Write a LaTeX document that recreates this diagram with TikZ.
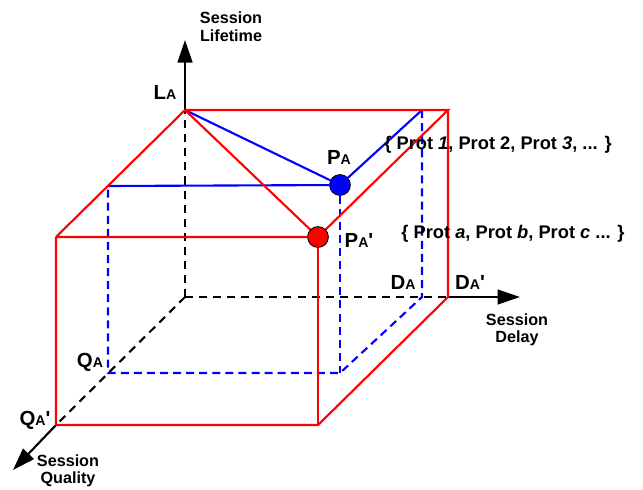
\documentclass[tikz,border=0pt]{standalone}
\usepackage{fontspec}
\newfontfamily\arialbold{Liberation Sans}
\usetikzlibrary{arrows.meta}

\newcommand{\subl}[2]{{\fontsize{14.5}{16}\selectfont #1}{\fontsize{10}{11}\selectfont #2}}
\newcommand{\subp}[2]{\subl{#1}{#2}{\fontsize{14.5}{16}\selectfont '}}

\tikzset{
  redline/.style={red, line width=1.5pt},
  blueline/.style={blue, line width=1.5pt},
  bluedash/.style={blue, line width=1.5pt, dash pattern=on 5.7pt off 3.6pt},
  axisdash/.style={black, line width=1.5pt, dash pattern=on 5.7pt off 4.3pt},
  axisarrow/.style={black, line width=1.5pt, -{Triangle[length=16pt,width=10.5pt]}},
  dot/.style={circle, draw=black, line width=0.6pt, minimum size=0.52cm, inner sep=0pt},
  lbl/.style={font=\arialbold\bfseries\fontsize{13}{15}\selectfont},
  axislbl/.style={font=\arialbold\bfseries\fontsize{11.5}{12.5}\selectfont, align=center},
}

\begin{document}
\begin{tikzpicture}[x=0.025cm, y=-0.025cm]
  \useasboundingbox (0,0) rectangle (643,489);

  % axes
  \coordinate (o) at (185,297);
  \coordinate (la) at (185,110);
  \coordinate (da) at (422,297);
  \coordinate (dap) at (448,297);
  \coordinate (qa) at (108,373);
  \coordinate (qap) at (56,425);
  \coordinate (ytip) at (185,40);
  \coordinate (xtip) at (520,297);
  \coordinate (ztip) at (13,470);

  % box corners
  \coordinate (rtr) at (448,110);
  \coordinate (rfl) at (56,237);
  \coordinate (rfb) at (318,425);
  \coordinate (btr) at (422,110);
  \coordinate (bfl) at (108,186);
  \coordinate (bbr) at (340,373);

  \node[dot, fill=blue] (pa) at (340,185) {};
  \node[dot, fill=red] (pap) at (318,237) {};

  \draw[axisdash] (o) -- (la);
  \draw[axisdash] (o) -- (dap);
  \draw[axisdash] (o) -- (qap);
  \draw[axisarrow] (la) -- (ytip);
  \draw[axisarrow] (dap) -- (xtip);
  \draw[axisarrow] (qap) -- (ztip);

  % inner (blue) box
  \draw[bluedash] (btr) -- (da) -- (bbr) -- (qa) -- (bfl);
  \draw[bluedash] (pa) -- (bbr);
  \draw[blueline] (la) -- (pa) -- (btr);
  \draw[blueline] (pa) -- (bfl);

  % outer (red) box
  \draw[redline] (rfl) -- (la) -- (rtr) -- (pap) -- (rfl);
  \draw[redline] (rfl) -- (qap) -- (rfb) -- (dap) -- (rtr);
  \draw[redline] (pap) -- (rfb);
  \draw[redline] (la) -- (pap);

  \node[lbl] (lal) at (165,92) {\subl{L}{A}};
  \node[lbl] (pal) at (339,157) {\subl{P}{A}};
  \node[lbl] (papl) at (359,240) {\subp{P}{A}};
  \node[lbl] (dal) at (403,282) {\subl{D}{A}};
  \node[lbl] (dapl) at (470,282) {\subp{D}{A}};
  \node[lbl] (qal) at (90,362) {\subl{Q}{A}};
  \node[lbl] (qapl) at (35,420) {\subp{Q}{A}};

  \node[axislbl] (lifetime) at (231,27) {Session\\Lifetime};
  \node[axislbl] (delay) at (517,330) {Session\\Delay};
  \node[axislbl] (quality) at (68,471) {Session\\Quality};

  \node[lbl] (protnum) at (498,145) {\{ Prot \textit{1}, Prot 2, Prot \textit{3}, ... \}};
  \node[lbl] (protlet) at (513,234) {\{ Prot \textit{a}, Prot \textit{b}, Prot \textit{c} ... \}};
\end{tikzpicture}
\end{document}
